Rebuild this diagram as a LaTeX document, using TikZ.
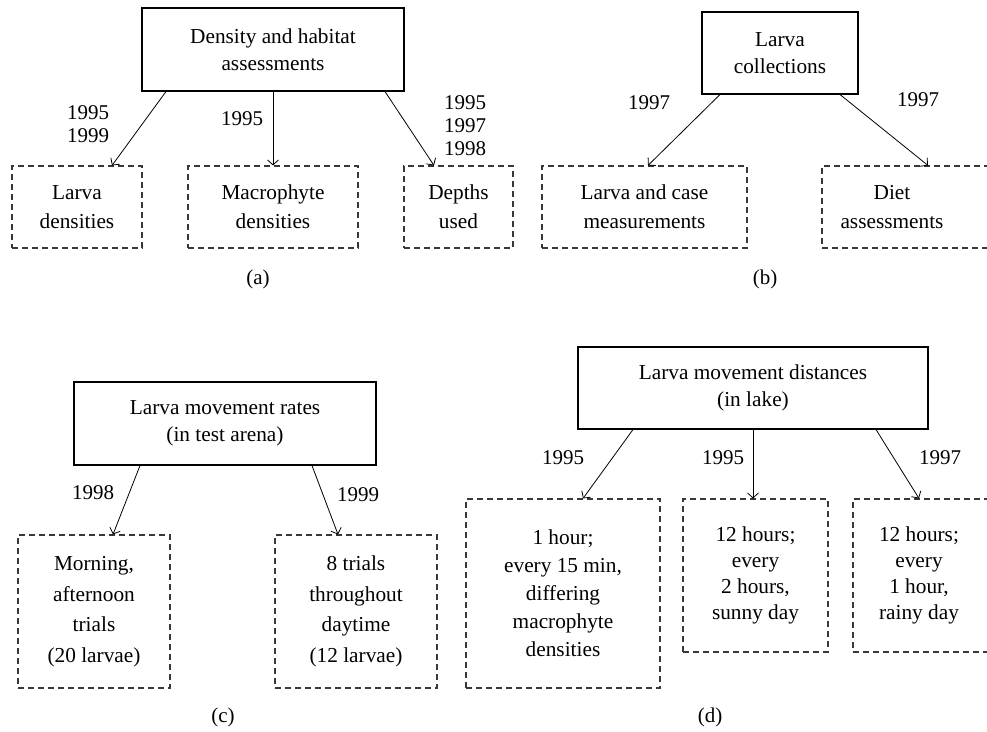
\documentclass[tikz,border=0pt]{standalone}
\usepackage{fontspec}
\setmainfont{Liberation Serif}
\usetikzlibrary{arrows.meta}
\begin{document}
\begin{tikzpicture}[x=1pt,y=-1pt,
  solidbox/.style={draw=black,line width=1.1pt,inner sep=0pt,align=center,font=\fontsize{21.3}{27}\selectfont},
  dbox/.style={draw=black!78,line width=1.1pt,dash pattern=on 6pt off 4pt,inner sep=0pt,align=center},
  btext/.style={inner sep=0pt,align=center},
  lbl/.style={inner sep=0pt,align=center,font=\fontsize{21}{23}\selectfont},
  arr/.style={line width=0.8pt,-{Straight Barb[length=5pt,width=11pt]}},
  ]
\useasboundingbox (0,0) rectangle (987,731);
\clip (0,0) rectangle (987,731);

% ---------------- (a)
\node[solidbox,minimum width=262,minimum height=83] (A) at (273,49.5) {Density and habitat\\assessments};
\node[dbox,minimum width=130,minimum height=82,font=\fontsize{21.3}{29}\selectfont] (A1) at (77,207) {Larva\\densities};
\node[dbox,minimum width=170,minimum height=82,font=\fontsize{21.3}{29}\selectfont] (A2) at (273,207) {Macrophyte\\densities};
\node[dbox,minimum width=109,minimum height=82,font=\fontsize{21.3}{29}\selectfont] (A3) at (458.5,207) {Depths\\used};
\draw[arr] ([xshift=-107pt]A.south) -- ([xshift=35pt]A1.north);
\draw[arr] (A.south) -- (A2.north);
\draw[arr] ([xshift=112pt]A.south) -- ([xshift=-24.5pt]A3.north);
\node[lbl] (la1) at (88,124) {1995\\1999};
\node[lbl] (la2) at (242,119) {1995};
\node[lbl] (la3) at (465,125.5) {1995\\1997\\1998};
\node[lbl] (capa) at (258,279) {(a)};

% ---------------- (b)
\node[solidbox,minimum width=156,minimum height=82] (B) at (780,53) {Larva\\collections};
\node[dbox,minimum width=205,minimum height=82,font=\fontsize{21.3}{29}\selectfont] (B1) at (644.5,207) {Larva and case\\measurements};
\node[dbox,minimum width=178,minimum height=82] (B2) at (911,207) {};
\node[btext,font=\fontsize{21.3}{29}\selectfont] (B2t) at (892,207) {Diet\\assessments};
\draw[arr] ([xshift=-60pt]B.south) -- ([xshift=3.5pt]B1.north);
\draw[arr] ([xshift=60pt]B.south) -- ([xshift=17pt]B2.north);
\node[lbl] (lb1) at (649,103) {1997};
\node[lbl] (lb2) at (918,100) {1997};
\node[lbl] (capb) at (765,279) {(b)};

% ---------------- (c)
\node[solidbox,minimum width=302,minimum height=83] (C) at (225,423.5) {Larva movement rates\\(in test arena)};
\node[dbox,minimum width=152,minimum height=153,font=\fontsize{21.3}{30.5}\selectfont] (C1) at (94,611.5) {Morning,\\afternoon\\trials\\(20 larvae)};
\node[dbox,minimum width=162,minimum height=153,font=\fontsize{21.3}{30.5}\selectfont] (C2) at (356,611.5) {8 trials\\throughout\\daytime\\(12 larvae)};
\draw[arr] ([xshift=-85pt]C.south) -- ([xshift=19pt]C1.north);
\draw[arr] ([xshift=87pt]C.south) -- ([xshift=-18pt]C2.north);
\node[lbl] (lc1) at (93,493) {1998};
\node[lbl] (lc2) at (358,495) {1999};
\node[lbl] (capc) at (223,717) {(c)};

% ---------------- (d)
\node[solidbox,minimum width=350,minimum height=82] (D) at (753,388) {Larva movement distances\\(in lake)};
\node[dbox,minimum width=194,minimum height=189,font=\fontsize{21.3}{28}\selectfont] (D1) at (563,593.5) {1 hour;\\every 15 min,\\differing\\macrophyte\\densities};
\node[dbox,minimum width=145,minimum height=153,font=\fontsize{21.3}{26}\selectfont] (D2) at (755.5,575.5) {12 hours;\\every\\2 hours,\\sunny day};
\node[dbox,minimum width=147,minimum height=153] (D3) at (926.5,575.5) {};
\node[btext,font=\fontsize{21.3}{26}\selectfont] (D3t) at (919,575.5) {12 hours;\\every\\1 hour,\\rainy day};
\draw[arr] ([xshift=-120pt]D.south) -- ([xshift=20pt]D1.north);
\draw[arr] (D.south) -- ([xshift=-2.5pt]D2.north);
\draw[arr] ([xshift=123pt]D.south) -- ([xshift=-7.5pt]D3.north);
\node[lbl] (ld1) at (563,458) {1995};
\node[lbl] (ld2) at (723,458) {1995};
\node[lbl] (ld3) at (940,458) {1997};
\node[lbl] (capd) at (710,717) {(d)};
\end{tikzpicture}
\end{document}
